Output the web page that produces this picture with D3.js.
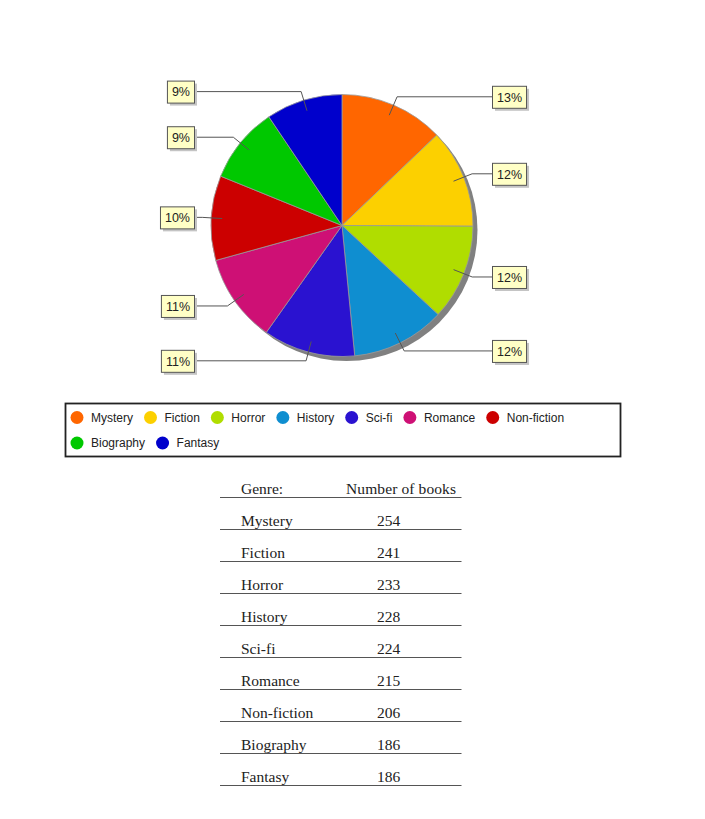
<!DOCTYPE html>
<html><head><meta charset="utf-8">
<script src="https://cdn.jsdelivr.net/npm/d3@7"></script>
<style>body{margin:0;background:#fff}</style>
</head><body><svg id="c" width="705" height="819"></svg>
<script>
const genres = ["Mystery","Fiction","Horror","History","Sci-fi","Romance","Non-fiction","Biography","Fantasy"];
const counts = [254,241,233,228,224,215,206,186,186];
const palette = ["#FF6600","#FCD000","#B0DD00","#0F8ED0","#2A12D0","#CE1075","#CC0000","#00C800","#0000CC"];
const headers = ["Genre:","Number of books"];

const svg = d3.select("#c");
svg.append("rect").attr("width",705).attr("height",819).attr("fill","#fff");
const cx = 342, cy = 225.5, R = 131;
const color = d3.scaleOrdinal().domain(genres).range(palette);
const total = d3.sum(counts);
const fmt = d3.format(".0%");
const data = genres.map((g,i)=>({g, v:counts[i]}));
const arcs = d3.pie().sort(null).value(d=>d.v)(data);
const arc = d3.arc().innerRadius(0).outerRadius(R);

const pg = svg.append("g");
// shadow
pg.append("circle").attr("cx",cx+4.5).attr("cy",cy+4.5).attr("r",R).attr("fill","#808080");
const sg = pg.append("g").attr("transform",`translate(${cx},${cy})`);
sg.selectAll("path").data(arcs).join("path")
  .attr("d",arc).attr("fill",d=>color(d.data.g))
  .attr("stroke","#9a9a9a").attr("stroke-width",0.8);

// labels
const lg = svg.append("g").attr("font-family","'Liberation Sans', Arial, sans-serif").attr("font-size",12.5);
arcs.forEach(d=>{
  const a = (d.startAngle+d.endAngle)/2;
  const sx = Math.sin(a), cyv = -Math.cos(a);
  const p1 = [cx+120*sx, cy+120*cyv], p2 = [cx+140*sx, cy+140*cyv];
  const right = sx > 0;
  const txt = fmt(d.data.v/total);
  const t = lg.append("text").text(txt).attr("x",-1000).attr("y",-1000);
  const w = t.node().getComputedTextLength();
  t.remove();
  const bw = w + 9, bh = 22;
  const bx = right ? 492 : 194 - bw;
  const by = p2[1] - bh/2;
  const lx = right ? bx : bx + bw;
  lg.append("polyline").attr("points",[p1,p2,[lx,p2[1]]].map(p=>p.join(",")).join(" "))
    .attr("fill","none").attr("stroke","#555").attr("stroke-width",1);
  lg.append("rect").attr("x",bx+3).attr("y",by+3).attr("width",bw).attr("height",bh).attr("fill","#c4c4c4");
  lg.append("rect").attr("x",bx+0.5).attr("y",by+0.5).attr("width",bw).attr("height",bh)
    .attr("fill","#FFFFC6").attr("stroke","#555").attr("stroke-width",1);
  lg.append("text").attr("x",bx+0.5+bw/2).attr("y",by+bh/2+0.5).attr("dy","0.35em")
    .attr("text-anchor","middle").attr("fill","#222").text(txt);
});

// legend
const leg = svg.append("g").attr("font-family","'Liberation Sans', Arial, sans-serif").attr("font-size",12);
leg.append("rect").attr("x",65.5).attr("y",403.5).attr("width",555).attr("height",53)
  .attr("fill","#fff").attr("stroke","#222").attr("stroke-width",1.8);
let x = 70.5, row = 0;
const rowY = [417.5, 443];
genres.forEach(g=>{
  const t = leg.append("text").text(g).attr("fill","#222");
  const w = t.node().getComputedTextLength();
  if (x + 20.5 + w > 616) { row++; x = 70.5; }
  leg.append("circle").attr("cx",x+6.5).attr("cy",rowY[row]).attr("r",6.5).attr("fill",color(g));
  t.attr("x",x+20.5).attr("y",rowY[row]).attr("dy","0.35em");
  x = x + 20.5 + w + 11;
});

// table
const tg = svg.append("g").attr("font-family","'Liberation Serif', 'Times New Roman', serif").attr("font-size",15.5).attr("fill","#222");
const line0 = 497.5, pitch = 32;
tg.append("text").attr("x",241).attr("y",line0-3.5).text(headers[0]);
tg.append("text").attr("x",346).attr("y",line0-3.5).attr("textLength",110).text(headers[1]);
tg.append("line").attr("x1",220).attr("x2",461.5).attr("y1",line0).attr("y2",line0).attr("stroke","#555").attr("stroke-width",1);
genres.forEach((g,i)=>{
  const ly = line0 + pitch*(i+1);
  tg.append("text").attr("x",241).attr("y",ly-3.5).text(g);
  tg.append("text").attr("x",377).attr("y",ly-3.5).text(counts[i]);
  tg.append("line").attr("x1",220).attr("x2",461.5).attr("y1",ly).attr("y2",ly).attr("stroke","#555").attr("stroke-width",1);
});
</script></body></html>
